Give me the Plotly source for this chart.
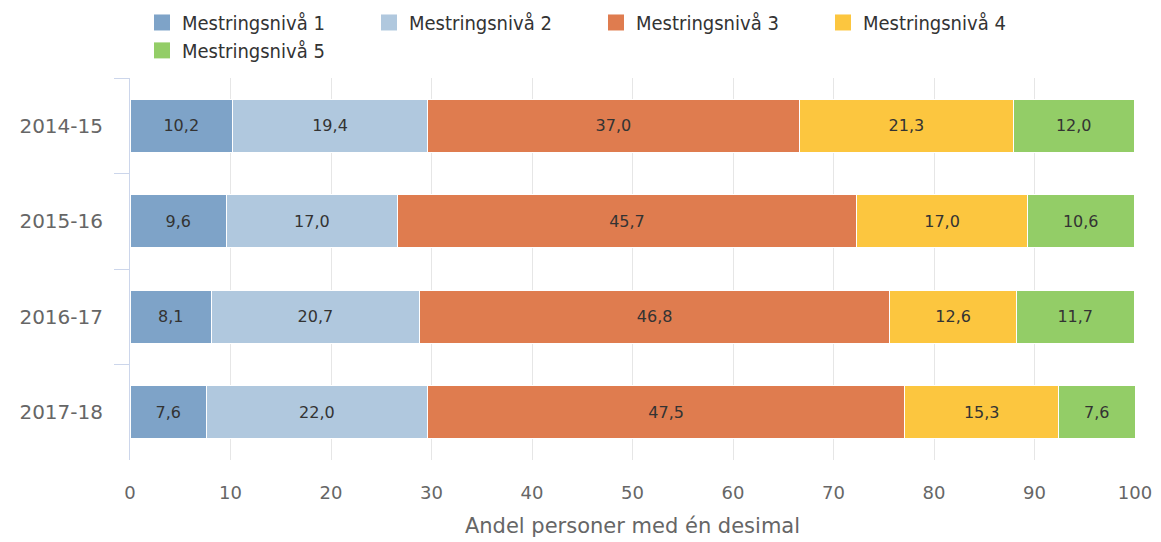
import plotly.graph_objects as go

years = ["2014-15", "2015-16", "2016-17", "2017-18"]
series_names = ["Mestringsnivå 1", "Mestringsnivå 2", "Mestringsnivå 3", "Mestringsnivå 4", "Mestringsnivå 5"]
niva1 = [10.2, 9.6, 8.1, 7.6]
niva2 = [19.4, 17.0, 20.7, 22.0]
niva3 = [37.0, 45.7, 46.8, 47.5]
niva4 = [21.3, 17.0, 12.6, 15.3]
niva5 = [12.0, 10.6, 11.7, 7.6]
colors = ["#7ea3c8", "#b0c8de", "#df7c4f", "#fcc63f", "#93cd67"]
x_ticks = [0, 10, 20, 30, 40, 50, 60, 70, 80, 90, 100]

font_family = "DejaVu Sans"
fig = go.Figure()
for name, vals, col in zip(series_names, [niva1, niva2, niva3, niva4, niva5], colors):
    fig.add_trace(go.Bar(
        name=name, y=years, x=vals, orientation="h",
        marker=dict(color=col, line=dict(color="white", width=1)),
        texttemplate="%{x:.1f}", textposition="inside", insidetextanchor="middle",
        textangle=0, constraintext="none",
        textfont=dict(color="#333333", size=16, family=font_family),
        hoverinfo="skip", showlegend=False,
    ))

# legend entries (square swatches)
for i, (name, col) in enumerate(zip(series_names, colors)):
    fig.add_trace(go.Scatter(
        x=[None], y=[None], mode="markers", name=name,
        marker=dict(symbol="square", size=17, color=col),
        legend="legend" if i < 4 else "legend2", hoverinfo="skip",
    ))

legend_common = dict(
    orientation="h", xref="container", yref="container",
    xanchor="left", yanchor="top",
    entrywidth=182, entrywidthmode="pixels",
    font=dict(size=20, color="#333333", family="DejaVu Sans Condensed"),
    traceorder="normal", itemclick=False, bgcolor="rgba(0,0,0,0)",
)

fig.update_layout(
    barmode="stack",
    bargap=0.45,
    separators=", ",
    width=1161, height=542,
    margin=dict(l=130, r=26, t=78, b=82, autoexpand=False),
    plot_bgcolor="white", paper_bgcolor="white",
    font=dict(family=font_family, color="#666666"),
    legend=dict(x=0.1223, y=0.9945, **legend_common),
    legend2=dict(x=0.1223, y=0.943, **legend_common),
    xaxis=dict(
        range=[0, 100], tickvals=x_ticks, showgrid=True, gridcolor="#e6e6e6", gridwidth=1,
        zeroline=False, showline=False,
        tickfont=dict(size=18, color="#666666"),
        title=dict(text="Andel personer med én desimal", font=dict(size=21, color="#666666"), standoff=16),
        ticks="", ticklen=0, ticklabelstandoff=20,
    ),
    yaxis=dict(
        autorange="reversed", showgrid=False, zeroline=False,
        showline=True, linecolor="#ccd6eb", linewidth=1,
        ticks="outside", tickson="boundaries", ticklen=15, tickcolor="#ccd6eb",
        tickfont=dict(size=20, color="#666666"),
        ticklabelstandoff=22,
    ),
)

fig.write_html("out.html", config={"displayModeBar": False},
               post_script="document.body.style.margin='0px';")
